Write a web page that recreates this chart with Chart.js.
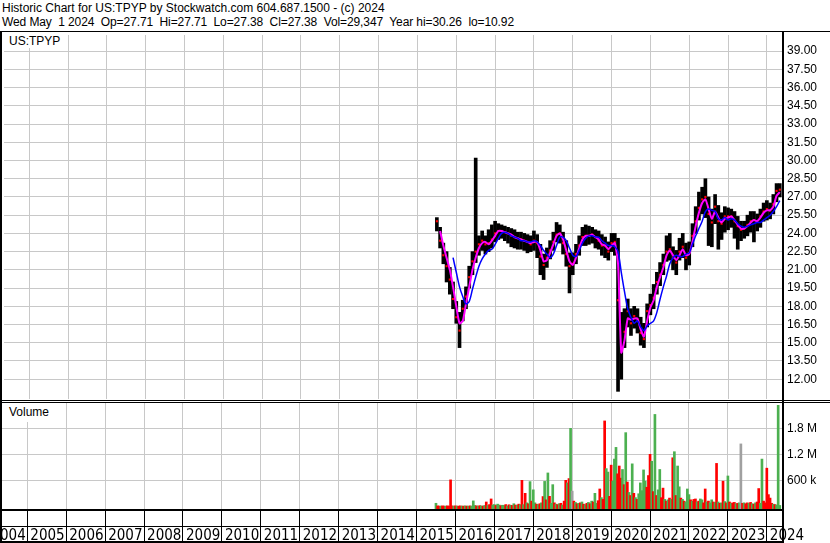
<!DOCTYPE html>
<html>
<head>
<meta charset="utf-8">
<script src="https://cdn.jsdelivr.net/npm/chart.js@4.4.1/dist/chart.umd.min.js"></script>
<style>
  body { margin: 0; background: #fff; width: 830px; height: 543px; overflow: hidden; position: relative; font-family: 'Liberation Sans', Arial, sans-serif; }
  .ttl { position: absolute; left: 2px; line-height: 15px; color: #000; white-space: pre; font-size: 12px; }
  .lbl { position: absolute; left: 2px; font-size: 12px; line-height: 14px; color: #000; background: #fff; padding: 2px 4px 0 7px; z-index: 2; }
  canvas { position: absolute; left: 0; }
</style>
</head>
<body>
<div class="ttl" style="top:1px">Historic Chart for US:TPYP by Stockwatch.com 604.687.1500 - (c) 2024</div>
<div class="ttl" style="top:15px;letter-spacing:-0.1px">Wed May  1 2024  Op=27.71  Hi=27.71  Lo=27.38  Cl=27.38  Vol=29,347  Year hi=30.26  lo=10.92</div>
<div class="lbl" style="top:32px;height:14px">US:TPYP</div>
<div class="lbl" style="top:403px;height:17px">Volume</div>
<canvas id="price" width="830" height="372" style="top:31px"></canvas>
<canvas id="vol" width="830" height="140" style="top:403px"></canvas>
<script>
// monthly bars, first one is July 2015
const firstMonth = [2015, 7];
const closes = [25.0,23.4,22.2,21.3,20.2,18.6,17.1,16.0,17.8,18.8,
  20.4,21.7,22.5,23.1,23.4,23.1,23.2,23.5,24.0,24.2,
  24.2,24.1,24.0,23.8,23.7,23.6,23.5,23.4,23.3,23.1,
  23.4,23.2,22.1,21.4,22.0,22.6,23.3,23.9,24.0,23.2,
  22.3,21.3,21.5,22.3,23.0,23.7,23.8,23.8,23.9,23.7,
  23.4,23.0,23.0,22.5,23.2,23.3,18.5,14.5,15.9,17.6,
  16.6,17.2,16.9,15.8,15.3,17.6,18.1,18.7,20.0,20.6,
  21.4,22.5,22.7,22.0,21.6,22.5,22.9,22.0,22.4,23.8,
  25.0,26.1,26.8,27.0,25.6,24.9,26.2,25.0,24.8,25.4,
  25.4,25.4,25.0,24.6,24.3,24.4,24.7,25.0,25.1,25.0,
  25.4,25.8,26.0,25.9,26.4,27.5,27.6];
const highs = [25.3,24.5,23.2,22.5,21.2,20.0,18.4,17.5,18.5,19.6,
  21.3,22.5,30.2,23.8,24.2,23.8,24.3,24.7,25.0,24.8,
  24.7,24.6,24.5,24.4,24.3,24.1,24.1,24.0,23.9,23.8,
  24.2,23.9,23.1,22.3,22.8,23.4,24.1,24.9,24.7,24.1,
  23.4,22.4,22.4,23.1,23.8,24.5,24.7,24.6,24.5,24.3,
  24.2,23.9,23.7,23.3,24.0,24.0,23.6,17.5,17.8,18.6,
  17.8,18.0,17.8,17.1,16.6,18.2,19.0,19.8,20.8,21.6,
  22.3,23.8,24.0,22.9,22.6,23.6,24.0,23.2,23.3,24.8,
  26.2,27.4,27.8,28.5,27.0,26.0,27.2,26.3,25.7,26.2,
  26.1,26.0,25.8,25.4,25.0,25.0,25.5,25.8,25.8,25.6,
  26.0,26.5,26.7,26.5,27.2,28.1,28.1];
const lows = [24.2,22.8,21.5,20.0,19.0,17.8,16.6,14.6,16.8,17.8,
  19.5,20.6,21.6,22.2,22.6,22.3,22.5,22.8,23.3,23.5,
  23.6,23.4,23.2,22.9,22.8,22.7,22.7,22.6,22.4,22.5,
  22.6,22.0,20.6,20.2,21.2,21.9,22.6,23.3,23.2,22.3,
  21.3,19.1,20.6,21.5,22.2,23.0,23.0,23.1,23.2,22.8,
  22.7,22.2,22.0,21.8,22.5,22.2,11.0,12.0,14.6,16.3,
  15.6,16.2,15.8,14.8,14.6,16.3,17.3,17.8,19.0,19.7,
  20.6,21.7,21.8,21.0,20.6,21.8,22.0,21.0,21.4,22.9,
  24.0,25.1,25.6,25.3,23.0,22.9,24.8,22.7,23.5,24.1,
  24.3,24.5,23.6,22.7,23.4,23.6,23.8,24.1,23.3,24.2,
  24.5,25.0,25.1,25.2,25.6,26.6,27.0];
const maShort = [null,24.2,23.0,22.0,21.0,19.6,18.0,16.6,16.8,18.2,
  19.6,21.0,22.0,22.8,23.2,23.3,23.1,23.4,23.8,24.2,
  24.2,24.1,24.0,23.9,23.7,23.6,23.5,23.4,23.3,23.2,
  23.3,23.3,22.6,21.7,21.8,22.4,23.1,23.8,24.0,23.5,
  22.6,21.7,21.4,22.0,22.8,23.5,23.8,23.8,23.9,23.7,
  23.5,23.1,23.0,22.7,23.0,23.2,21.5,14.2,15.2,17.0,
  16.9,17.0,17.0,16.1,15.5,16.8,17.9,18.5,19.6,20.4,
  21.2,22.2,22.6,22.2,21.8,22.2,22.7,22.2,22.3,23.3,
  24.6,25.7,26.5,26.8,26.0,25.2,25.8,25.3,24.9,25.2,
  25.3,25.4,25.1,24.7,24.4,24.4,24.6,24.9,25.1,25.0,
  25.3,25.7,25.9,25.9,26.2,27.1,27.4];
const maLong = [null,null,null,null,null,22.0,20.8,19.6,18.8,18.2,
  18.4,19.4,20.4,21.3,21.9,22.3,22.6,22.7,23.1,23.6,
  24.0,24.1,24.0,23.8,23.7,23.6,23.4,23.4,23.3,23.3,
  23.4,23.3,23.0,22.6,22.3,22.0,22.3,23.0,23.7,23.7,
  23.4,22.8,22.2,22.1,22.6,23.2,23.6,23.8,23.8,23.7,
  23.7,23.4,23.2,23.0,23.0,22.9,22.5,20.8,19.2,17.8,
  17.1,16.6,16.8,16.3,16.0,16.4,16.6,16.8,17.5,18.6,
  19.6,20.5,21.5,22.0,22.2,22.1,22.1,22.3,22.4,23.1,
  23.8,24.4,25.0,25.8,26.0,25.9,25.8,25.2,25.1,25.3,
  25.1,25.2,25.1,24.8,24.6,24.5,24.6,24.7,24.8,24.9,
  24.9,25.1,25.3,25.5,25.8,26.2,26.7];

// volume, two bars per month from July 2015, in thousands; g up, r down, x unchanged
const volumes = [70,10,5,5,10,5,5,10,5,610,10,5,
  10,5,5,10,5,5,10,5,5,10,5,125,
  20,10,5,15,10,5,20,100,20,40,170,30,
  40,20,50,30,15,25,20,40,10,35,25,20,
  60,30,25,50,40,600,40,300,80,60,570,120,
  380,80,50,40,60,80,225,575,150,770,230,70,
  500,80,50,40,60,70,30,120,600,540,640,1800,
  350,120,90,60,70,80,100,50,40,70,90,60,
  120,100,300,70,130,400,200,160,1970,870,790,230,
  950,580,1090,1360,750,930,650,850,500,1700,560,320,
  250,980,300,200,160,290,540,360,840,580,440,710,
  1200,1040,340,2120,250,380,850,200,420,160,120,150,
  190,160,1120,1260,250,930,450,190,160,120,100,400,
  270,150,120,160,170,100,120,170,150,80,400,100,
  120,80,150,100,90,990,100,70,80,580,110,80,
  700,100,70,80,90,60,70,80,1440,70,80,60,
  80,70,90,60,50,80,100,410,70,1090,120,80,
  880,270,190,70,50,40,30,2330,20];
const volDir = 'grrgrrgrrrrg' + 'rgrrgrgrgrgg' + 'grgrgrgrgrrg' + 'grggrggrgrgr' +
  'grgrgrgrgrgr' + 'ggrgrgrgrgrg' + 'grgrgrgrrgrg' + 'xrgrgrgrgrgr' +
  'grggrrgrrggr' + 'rgggrrrgrgrg' + 'rgrgrgggggrr' + 'rgrgrggrrgrg' +
  'rgrgrggrgrgg' + 'grgrrgrggrrg' + 'rggrgrgrgrgr' + 'grgrrgrgxrgr' +
  'rgrgrgrrggrr' + 'rrrrgrggg';

const years = [2004,2005,2006,2007,2008,2009,2010,2011,2012,2013,2014,2015,2016,2017,2018,2019,2020,2021,2022,2023,2024];
const priceTicks = [12,13.5,15,16.5,18,19.5,21,22.5,24,25.5,27,28.5,30,31.5,33,34.5,36,37.5,39];
const volTicks = [600000,1200000,1800000];
const volTickLabels = ['600 k','1.2 M','1.8 M'];

const xMin = 2004.35, xMax = 2024.39;
const priceMin = 10.37, priceMax = 40.33;
const volMin = -62000, volMax = 2384000;

const monthX = i => firstMonth[0] + (firstMonth[1] - 1 + i) / 12;
const volX = i => firstMonth[0] + (firstMonth[1] - 1) / 12 + i / 24;
const pts = arr => arr.map((v, i) => v == null ? null : { x: monthX(i), y: v }).filter(p => p);

const grid = '#c8c8c8';
const fontAx = { family: "'Liberation Sans', Arial, sans-serif", size: 12 };
const noPad = s => { s.paddingTop = 0; s.paddingBottom = 0; s.paddingLeft = 0; s.paddingRight = 0; };

function frame(name, opts) {
  return {
    id: name,
    afterDraw(chart) {
      const c = chart.ctx, a = chart.chartArea, W = chart.width, H = chart.height;
      c.save();
      c.fillStyle = '#000';
      c.fillRect(0, 0, 2, H);
      c.fillRect(a.right, 0, 2, H);
      opts.forEach(o => c.fillRect(o[0], o[1], o[2] === 'full' ? W : a.right, o[3]));
      c.restore();
    }
  };
}

new Chart(document.getElementById('price'), {
  type: 'bar',
  data: {
    datasets: [
      { type: 'line', data: pts(maLong), borderColor: '#0000ff', borderWidth: 1.5, pointRadius: 0, tension: 0.3, order: 0 },
      { type: 'line', data: pts(maShort), borderColor: '#ff00ff', borderWidth: 2, pointRadius: 0, tension: 0.2, order: 1 },
      { type: 'line', data: pts(closes), showLine: false, pointStyle: 'rect', pointRadius: 1.5, borderWidth: 0, backgroundColor: '#ff0000', order: 2 },
      { type: 'bar', data: highs.map((h, i) => ({ x: monthX(i), y: [lows[i], h] })), backgroundColor: '#000', barThickness: 3, order: 3 }
    ]
  },
  options: {
    responsive: false, animation: false,
    layout: { padding: { left: 2, top: 1, bottom: 3, right: 0 } },
    plugins: { legend: { display: false }, tooltip: { enabled: false } },
    scales: {
      x: {
        type: 'linear', min: xMin, max: xMax, offset: false,
        afterBuildTicks: s => { s.ticks = years.map(v => ({ value: v })); },
        ticks: { display: false },
        grid: { color: grid, drawTicks: false, offset: false },
        border: { display: false },
        afterFit: s => { s.height = 0; noPad(s); }
      },
      y: {
        position: 'right', min: priceMin, max: priceMax,
        afterBuildTicks: s => { s.ticks = priceTicks.map(v => ({ value: v })); },
        ticks: { callback: v => v.toFixed(2), color: '#000', font: fontAx, padding: 5 },
        grid: { color: grid, drawTicks: false },
        border: { display: false },
        afterFit: s => { s.width = 48; noPad(s); }
      }
    }
  },
  plugins: [frame('priceFrame', [[0, 0, 'full', 1], [0, 369, 'full', 1], [0, 371, 'full', 1]])]
});

new Chart(document.getElementById('vol'), {
  type: 'bar',
  data: {
    datasets: [{
      data: volumes.map((v, i) => ({ x: volX(i), y: v * 1000 })),
      backgroundColor: volumes.map((v, i) => volDir[i] === 'g' ? '#4cb050' : volDir[i] === 'r' ? '#ff0000' : '#a0a0a0'),
      barThickness: 2, base: volMin
    }]
  },
  options: {
    responsive: false, animation: false,
    layout: { padding: { left: 2, top: 0, bottom: 0, right: 0 } },
    plugins: { legend: { display: false }, tooltip: { enabled: false } },
    scales: {
      x: {
        type: 'linear', min: xMin, max: xMax, offset: false,
        afterBuildTicks: s => { s.ticks = years.map(v => ({ value: v })); },
        ticks: { autoSkip: false, maxRotation: 0, minRotation: 0, align: 'start', labelOffset: 3, padding: -15,
          callback: v => String(v), color: '#000',
          font: { family: "'Liberation Sans Narrow', 'Arial Narrow', 'DejaVu Sans Condensed', sans-serif", size: 15 } },
        grid: { color: grid, drawTicks: true, tickLength: 33, tickColor: '#000', tickWidth: 1, offset: false },
        border: { display: false },
        afterFit: s => { s.height = 34; noPad(s); }
      },
      y: {
        position: 'right', min: volMin, max: volMax,
        afterBuildTicks: s => { s.ticks = volTicks.map(v => ({ value: v })); },
        ticks: { callback: (v, i) => volTickLabels[i], color: '#000', font: fontAx, padding: 5 },
        grid: { color: grid, drawTicks: false },
        border: { display: false },
        afterFit: s => { s.width = 48; noPad(s); }
      }
    }
  },
  plugins: [frame('volFrame', [[0, 106, 'area', 2], [0, 123, 'area', 1], [0, 138, 'area', 2]])]
});
</script>
</body>
</html>
